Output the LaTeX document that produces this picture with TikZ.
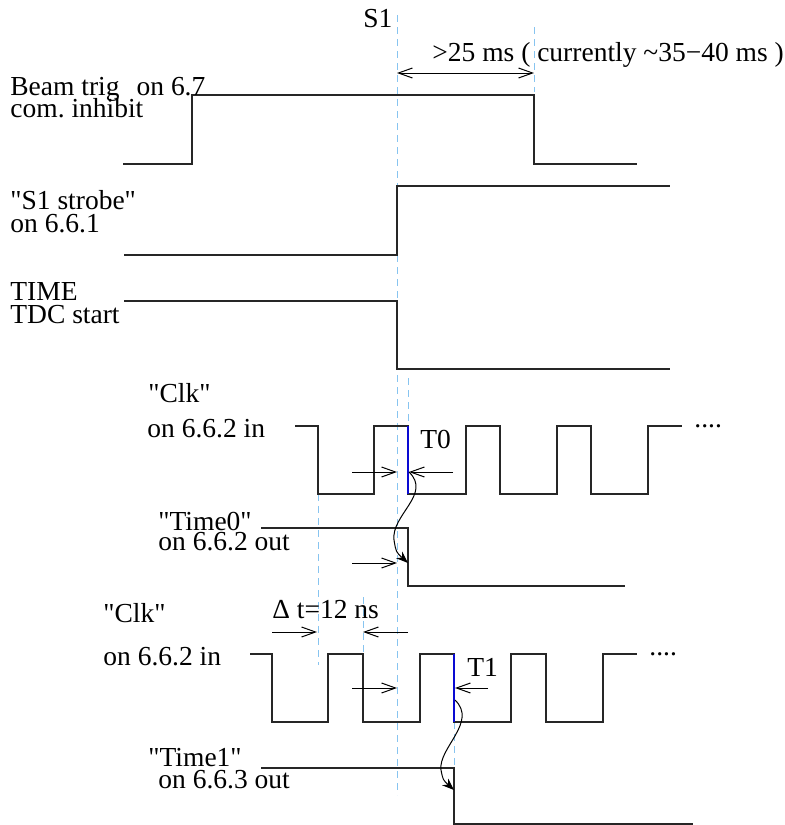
\documentclass[tikz,border=0pt]{standalone}
\usepackage{fontspec}
\newfontfamily\diagfont{Liberation Serif}
\usetikzlibrary{arrows.meta}
\definecolor{guidecol}{RGB}{135,196,240}
\definecolor{edgecol}{RGB}{10,10,210}
\begin{document}
\frenchspacing
\begin{tikzpicture}[x=0.5pt,y=-0.5pt,
  sig/.style={line width=0.6pt, black!85},
  guide/.style={line width=0.5pt, guidecol, dash pattern=on 3.5pt off 2.5pt},
  edgeline/.style={line width=1.2pt, edgecol},
  meas/.style={line width=0.5pt, -{Straight Barb[length=7pt,width=5pt]}},
  both/.style={line width=0.5pt, {Straight Barb[length=7pt,width=5pt]}-{Straight Barb[length=7pt,width=5pt]}},
  causal/.style={line width=0.5pt, -{Stealth[length=6pt,width=4.5pt]}},
  lbl/.style={anchor=base west, inner sep=0pt, font=\diagfont\fontsize{13.75}{16}\selectfont}]
\useasboundingbox (0,0) rectangle (785,825);

% guides
\draw[guide] (397,15) -- (397,795);
\draw[guide] (534,27) -- (534,92);
\draw[guide] (318,494) -- (318,665);
\draw[guide] (408,378) -- (408,426);
\draw[guide] (363,597) -- (363,654);
\draw[guide] (454,722) -- (454,768);

% waveforms
\draw[sig] (123,164) -- (192,164) -- (192,95) -- (534,95) -- (534,164) -- (637,164);
\draw[sig] (124,255) -- (397,255) -- (397,186) -- (670,186);
\draw[sig] (124,301) -- (397,301) -- (397,369) -- (670,369);
\draw[sig] (295,426) -- (318,426) -- (318,494) -- (374,494) -- (374,426) -- (408,426) -- (408,494) -- (466,494) -- (466,426) -- (500,426) -- (500,494) -- (557,494) -- (557,426) -- (591,426) -- (591,494) -- (648,494) -- (648,426) -- (682,426);
\draw[sig] (261,528) -- (408,528) -- (408,586) -- (625,586);
\draw[sig] (250,654) -- (272,654) -- (272,722) -- (328,722) -- (328,654) -- (363,654) -- (363,722) -- (420,722) -- (420,654) -- (454,654) -- (454,722) -- (511,722) -- (511,654) -- (546,654) -- (546,722) -- (603,722) -- (603,654) -- (637,654);
\draw[sig] (261,768) -- (454,768) -- (454,824) -- (693,824);

% blue edges
\coordinate (e0t) at (408,426); \coordinate (e0b) at (408,494);
\coordinate (e1t) at (454,654); \coordinate (e1b) at (454,722);
\draw[edgeline] (e0t) -- (e0b);
\draw[edgeline] (e1t) -- (e1b);

% measurement arrows
\coordinate (s1a) at (397,73); \coordinate (s1b) at (534,73);
\draw[both] (s1a) -- (s1b);
\coordinate (t0a) at (352,472); \coordinate (t0b) at (397,472);
\coordinate (t0c) at (453,472); \coordinate (t0d) at (409,472);
\draw[meas] (t0a) -- (t0b);
\draw[meas] (t0c) -- (t0d);
\coordinate (ta0) at (352,563); \coordinate (tb0) at (397,563);
\draw[meas] (ta0) -- (tb0);
\coordinate (dta) at (272,632); \coordinate (dtb) at (317,632);
\coordinate (dtc) at (408,632); \coordinate (dtd) at (363,632);
\draw[meas] (dta) -- (dtb);
\draw[meas] (dtc) -- (dtd);
\coordinate (t1a) at (352,688); \coordinate (t1b) at (397,688);
\coordinate (t1c) at (488,688); \coordinate (t1d) at (455,688);
\draw[meas] (t1a) -- (t1b);
\draw[meas] (t1c) -- (t1d);

% causal curves
\coordinate (c0s) at (409,472); \coordinate (c0e) at (408,563);
\draw[causal] (c0s) .. controls (432,494) and (391,515) .. (394,540) .. controls (396,552) .. (c0e);
\coordinate (c1s) at (455,700); \coordinate (c1e) at (454,790);
\draw[causal] (c1s) .. controls (478,722) and (438,748) .. (441,770) .. controls (443,780) .. (c1e);

% labels
\node[lbl] (ls1) at (363,27) {S1};
\node[lbl] (ldur) at (432,61) {>25 ms ( currently \textasciitilde35−40 ms )};
\node[lbl] (lbeam1) at (10,95) {Beam trig\hspace{8.5pt}on 6.7};
\node[lbl] (lbeam2) at (10,117) {com. inhibit};
\node[lbl] (lstr1) at (10,209) {"S1 strobe"};
\node[lbl] (lstr2) at (10,232) {on 6.6.1};
\node[lbl] (ltime1) at (10,300) {TIME};
\node[lbl] (ltime2) at (10,323) {TDC start};
\node[lbl] (lclk1) at (148,402) {"Clk"};
\node[lbl] (lclk1b) at (147,437) {on 6.6.2 in};
\node[lbl] (ldots1) at (694,427) {....};
\node[lbl] (lt0) at (420,448) {T0};
\node[lbl] (ltm0) at (158,530) {"Time0"};
\node[lbl] (ltm0b) at (158,550) {on 6.6.2 out};
\node[lbl] (ldt) at (272,618) {Δ t=12 ns};
\node[lbl] (lclk2) at (103,622) {"Clk"};
\node[lbl] (lclk2b) at (103,665) {on 6.6.2 in};
\node[lbl] (ldots2) at (649,655) {....};
\node[lbl] (lt1) at (467,676) {T1};
\node[lbl] (ltm1) at (148,766) {"Time1"};
\node[lbl] (ltm1b) at (158,788) {on 6.6.3 out};
\end{tikzpicture}
\end{document}
